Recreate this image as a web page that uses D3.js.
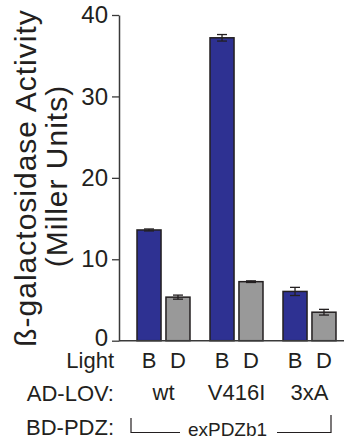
<!DOCTYPE html>
<html>
<head>
<meta charset="utf-8">
<script src="https://cdn.jsdelivr.net/npm/d3@7"></script>
<style>
  body { margin: 0; background: #fff; }
  text { font-family: "Liberation Sans", Arial, sans-serif; fill: #231f20; }
</style>
</head>
<body>
<div id="chart"></div>
<script>
// Data
const constructs = ["wt", "V416I", "3xA"];
const lights = ["B", "D"];
const meanB = [13.6, 37.2, 6.05];
const meanD = [5.35, 7.25, 3.5];
const errB = [0.12, 0.4, 0.5];
const errD = [0.25, 0.1, 0.35];
const yTicks = [0, 10, 20, 30, 40];

const width = 344, height = 446;
const colors = { B: "#2e3192", D: "#999999", ink: "#231f20" };

const rows = [];
constructs.forEach((c, i) => {
    rows.push({ construct: c, light: "B", value: meanB[i], err: errB[i] });
    rows.push({ construct: c, light: "D", value: meanD[i], err: errD[i] });
});

const svg = d3.select("#chart").append("svg")
    .attr("width", width)
    .attr("height", height);

const axisX = 119;

const y = d3.scaleLinear().domain([0, 40]).range([340.7, 15]);

const x0 = d3.scaleBand()
    .domain(constructs)
    .range([127, 346])
    .paddingInner(0.274)
    .paddingOuter(0.137);

const x1 = d3.scaleBand()
    .domain(lights)
    .range([0, x0.bandwidth()])
    .paddingInner(0.17);

// bars
svg.append("g").selectAll("rect")
    .data(rows)
    .join("rect")
    .attr("x", d => x0(d.construct) + x1(d.light))
    .attr("y", d => y(d.value))
    .attr("width", x1.bandwidth())
    .attr("height", d => y(0) - y(d.value))
    .attr("fill", d => colors[d.light])
    .attr("stroke", colors.ink)
    .attr("stroke-width", 1.5);

// error bars
const eb = svg.append("g").attr("stroke", colors.ink).attr("stroke-width", 1.3);
rows.forEach(d => {
    const cx = x0(d.construct) + x1(d.light) + x1.bandwidth() / 2;
    const top = y(d.value + d.err), bot = y(d.value - d.err);
    eb.append("line").attr("x1", cx).attr("x2", cx).attr("y1", top).attr("y2", bot);
    eb.append("line").attr("x1", cx - 5).attr("x2", cx + 5).attr("y1", top).attr("y2", top);
    eb.append("line").attr("x1", cx - 5).attr("x2", cx + 5).attr("y1", bot).attr("y2", bot);
});

// baseline
svg.append("line")
    .attr("x1", axisX).attr("x2", width)
    .attr("y1", y(0)).attr("y2", y(0))
    .attr("stroke", "#3a3a3a")
    .attr("stroke-width", 1.5);

// y axis
const yAxis = svg.append("g")
    .attr("transform", `translate(${axisX},0)`)
    .call(d3.axisLeft(y).tickValues(yTicks).tickSize(7).tickSizeOuter(0).tickPadding(4));
yAxis.select(".domain").attr("stroke", "#3a3a3a").attr("stroke-width", 1.5);
yAxis.selectAll(".tick line").attr("stroke", "#3a3a3a").attr("stroke-width", 1.3);
yAxis.selectAll(".tick text")
    .style("font-family", "'Liberation Sans', Arial, sans-serif")
    .style("font-size", "24px")
    .attr("fill", colors.ink)
    .attr("dy", d => d === 0 ? "0.18em" : "0.32em");

// y axis title
svg.append("text")
    .attr("transform", "translate(36,178) rotate(-90)")
    .attr("text-anchor", "middle")
    .style("font-size", "30px")
    .style("letter-spacing", "1px")
    .text("ß-galactosidase Activity");

svg.append("text")
    .attr("transform", "translate(66.5,176) rotate(-90)")
    .attr("text-anchor", "middle")
    .style("font-size", "30px")
    .style("letter-spacing", "1px")
    .text("(Miller Units)");

// row labels
const rowLabels = [["Light", 368], ["AD-LOV:", 400.5], ["BD-PDZ:", 434.5]];
svg.selectAll(".row-label")
    .data(rowLabels)
    .join("text")
    .attr("class", "row-label")
    .attr("x", 114)
    .attr("y", d => d[1])
    .attr("text-anchor", "end")
    .style("font-size", "22px")
    .text(d => d[0]);

// light labels under each bar
svg.selectAll(".light-label")
    .data(rows)
    .join("text")
    .attr("class", "light-label")
    .attr("x", d => x0(d.construct) + x1(d.light) + x1.bandwidth() / 2)
    .attr("y", 368)
    .attr("text-anchor", "middle")
    .style("font-size", "22px")
    .text(d => d.light);

// construct labels
svg.selectAll(".construct-label")
    .data(constructs)
    .join("text")
    .attr("class", "construct-label")
    .attr("x", d => x0(d) + x0.bandwidth() / 2)
    .attr("y", 400)
    .attr("text-anchor", "middle")
    .style("font-size", "22px")
    .text(d => d);

// BD-PDZ bracket
const br = svg.append("g").attr("stroke", colors.ink).attr("stroke-width", 1.2).attr("fill", "none");
br.append("path").attr("d", "M131,418V432.5H180");
br.append("path").attr("d", "M277,432.5H331V415");
svg.append("text")
    .attr("x", 227.5)
    .attr("y", 436)
    .attr("text-anchor", "middle")
    .style("font-size", "19px")
    .text("exPDZb1");
</script>
</body>
</html>
